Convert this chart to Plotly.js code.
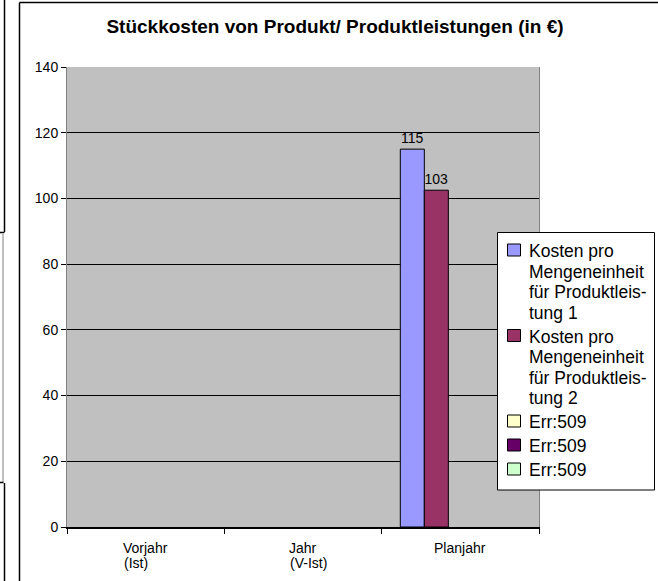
<!DOCTYPE html>
<html>
<head>
<meta charset="utf-8">
<script src="https://cdn.plot.ly/plotly-3.0.1.min.js"></script>
<style>html,body{margin:0;padding:0;background:#fff}#chart{width:658px;height:581px}</style>
</head>
<body>
<div id="chart"></div>
<script>
// Data
var categories = ['Vorjahr (Ist)', 'Jahr (V-Ist)', 'Planjahr'];
var categoryLines = [['Vorjahr', '(Ist)'], ['Jahr', '(V-Ist)'], ['Planjahr']];
var seriesNames = [
  ['Kosten pro', 'Mengeneinheit', 'für Produktleis-', 'tung 1'],
  ['Kosten pro', 'Mengeneinheit', 'für Produktleis-', 'tung 2'],
  ['Err:509'], ['Err:509'], ['Err:509']
];
var kosten1 = [null, null, 115];
var kosten2 = [null, null, 102.5];
var err1 = [null, null, null];
var err2 = [null, null, null];
var err3 = [null, null, null];
var seriesValues = [kosten1, kosten2, err1, err2, err3];
var seriesColors = ['#9999ff', '#993366', '#ffffcc', '#660066', '#ccffcc'];
var showLabels = [true, true, false, false, false];
var yTicks = [0, 20, 40, 60, 80, 100, 120, 140];

var FONT = 'Liberation Sans, Arial, sans-serif';
var FS = 14;

function px(x) { return (x - 67) / 472; }
function py(y) { return (527 - y) / 460; }

var canvas = document.createElement('canvas');
var ctx = canvas.getContext('2d');
ctx.font = FS + 'px "Liberation Sans", Arial, sans-serif';

var traces = seriesValues.map(function (vals, i) {
  return {
    type: 'bar',
    name: seriesNames[i].join(' '),
    x: categories,
    y: vals,
    showlegend: false,
    marker: { color: seriesColors[i], line: { color: '#000000', width: 1 } },
    texttemplate: showLabels[i] ? '%{y:.0f}' : '',
    textposition: 'outside',
    textfont: { family: FONT, size: FS, color: '#000000' },
    cliponaxis: false,
    hoverinfo: 'skip'
  };
});

// category labels: first line centred, following lines left-aligned to it
var annotations = [];
categoryLines.forEach(function (lines, i) {
  var w0 = ctx.measureText(lines[0]).width;
  lines.forEach(function (ln, j) {
    annotations.push({
      x: categories[i], xref: 'x',
      y: py(548 + j * 15), yref: 'paper', yanchor: 'middle',
      xanchor: j === 0 ? 'center' : 'left',
      xshift: j === 0 ? 0 : -w0 / 2,
      text: ln, showarrow: false, borderpad: 0,
      font: { family: FONT, size: FS, color: '#000000' }
    });
  });
});

var shapes = [
  // outer chart frame (left and top visible)
  { type: 'line', xref: 'paper', yref: 'paper', x0: px(19.5), x1: px(19.5), y0: py(2.5), y1: py(590), line: { color: '#000', width: 1.5 } },
  { type: 'line', xref: 'paper', yref: 'paper', x0: px(19.5), x1: px(670), y0: py(2.5), y1: py(2.5), line: { color: '#000', width: 1.5 } },
  // neighbouring frame fragments at the left edge
  { type: 'line', xref: 'paper', yref: 'paper', x0: px(4.5), x1: px(4.5), y0: py(-5), y1: py(232), line: { color: '#000', width: 1.5 } },
  { type: 'line', xref: 'paper', yref: 'paper', x0: px(-5), x1: px(4.5), y0: py(232.5), y1: py(232.5), line: { color: '#000', width: 1.5 } },
  { type: 'line', xref: 'paper', yref: 'paper', x0: px(3), x1: px(3), y0: py(234), y1: py(482), line: { color: '#808080', width: 1 } },
  { type: 'line', xref: 'paper', yref: 'paper', x0: px(-5), x1: px(3.5), y0: py(482.5), y1: py(482.5), line: { color: '#000', width: 1.5 } },
  { type: 'line', xref: 'paper', yref: 'paper', x0: px(4.5), x1: px(4.5), y0: py(483), y1: py(590), line: { color: '#000', width: 1.5 } }
];

// legend box (drawn from the series names and colours)
var LEG_L = 497, LEG_T = 232.5, LEG_B = 490, LINE0 = 251, LINE_H = 20.5, ITEM_GAP = 3.5;
var LFS = 17.5, TEXT_X = 528;
ctx.font = LFS + 'px "Liberation Sans", Arial, sans-serif';
var maxW = 0;
seriesNames.forEach(function (lines) { lines.forEach(function (l) { maxW = Math.max(maxW, ctx.measureText(l).width); }); });
var LEG_R = Math.min(655.5, Math.round(TEXT_X + maxW + 8) + 0.5);
shapes.push({ type: 'rect', xref: 'paper', yref: 'paper', layer: 'above',
  x0: px(LEG_L + 0.5), x1: px(LEG_R), y0: py(LEG_T), y1: py(LEG_B),
  fillcolor: '#ffffff', line: { color: '#000000', width: 1 } });
var yc = LINE0;
seriesNames.forEach(function (lines, i) {
  shapes.push({ type: 'rect', xref: 'paper', yref: 'paper', layer: 'above',
    x0: px(507.5), x1: px(520.5), y0: py(yc - 7), y1: py(yc + 5),
    fillcolor: seriesColors[i], line: { color: '#000000', width: 1 } });
  lines.forEach(function (ln, j) {
    annotations.push({
      x: px(TEXT_X), xref: 'paper', xanchor: 'left',
      y: py(yc), yref: 'paper', yanchor: 'middle',
      text: ln, showarrow: false, borderpad: 0,
      font: { family: FONT, size: LFS, color: '#000000' }
    });
    yc += LINE_H;
  });
  yc += ITEM_GAP;
});

var layout = {
  width: 658, height: 581,
  margin: { l: 67, r: 119, t: 67, b: 54, pad: 0 },
  paper_bgcolor: '#ffffff',
  plot_bgcolor: '#c0c0c0',
  font: { family: FONT, size: FS, color: '#000000' },
  showlegend: false,
  title: {
    text: '<b>Stückkosten von Produkt/ Produktleistungen (in €)</b>',
    font: { family: FONT, size: 19, color: '#000000' },
    xref: 'paper', x: px(335), xanchor: 'center',
    yref: 'container', y: 1 - 26 / 581, yanchor: 'middle'
  },
  barmode: 'group',
  bargap: 0.237,
  bargroupgap: 0,
  xaxis: {
    type: 'category',
    categoryorder: 'array', categoryarray: categories,
    tickson: 'boundaries',
    ticks: 'outside', ticklen: 5, tickcolor: '#000000', tickwidth: 1,
    showticklabels: false,
    showgrid: false, zeroline: false,
    showline: true, linecolor: '#000000', linewidth: 2, mirror: false,
    fixedrange: true
  },
  yaxis: {
    range: [0, 140],
    tickvals: yTicks,
    ticks: 'outside', ticklen: 5, tickcolor: '#000000', tickwidth: 1,
    tickfont: { family: FONT, size: FS, color: '#000000' },
    showgrid: true, gridcolor: '#000000', gridwidth: 1,
    zeroline: false,
    showline: true, linecolor: '#808080', linewidth: 1, mirror: true,
    fixedrange: true
  },
  annotations: annotations,
  shapes: shapes
};

Plotly.newPlot('chart', traces, layout, { displayModeBar: false, staticPlot: true });
</script>
</body>
</html>
